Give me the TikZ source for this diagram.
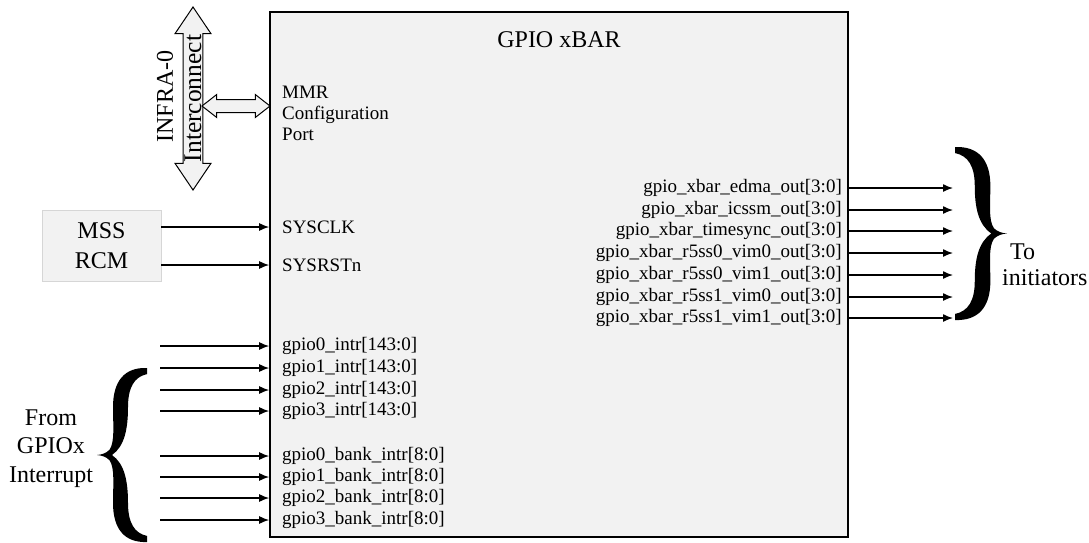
\documentclass[tikz,border=0pt]{standalone}
\usepackage{fontspec}
\setmainfont{Liberation Serif}
\usetikzlibrary{arrows.meta,positioning,shapes.arrows,calc}
\definecolor{xbarFill}{RGB}{242,242,242}
\definecolor{rcmLine}{RGB}{214,214,214}
\tikzset{
  sig/.style={line width=1.4pt, -{Latex[length=10pt,width=8pt]}},
  port/.style={font=\fontsize{19}{21}\selectfont, inner sep=0pt},
  biglabel/.style={font=\fontsize{24}{28}\selectfont, inner sep=0pt, align=center},
  blockarrow/.style={double arrow, draw=black, line width=1pt, fill=xbarFill, inner sep=0pt},
  curly/.pic={
    \fill (0,1) .. controls (0.45,1.01) and (0.68,0.85) .. (0.68,0.55)
      .. controls (0.68,0.35) and (0.64,0.15) .. (0.75,0.06)
      .. controls (0.82,0.02) and (0.9,0.005) .. (1,0)
      .. controls (0.9,-0.005) and (0.82,-0.02) .. (0.75,-0.06)
      .. controls (0.64,-0.15) and (0.68,-0.35) .. (0.68,-0.55)
      .. controls (0.68,-0.85) and (0.45,-1.01) .. (0,-1)
      -- (0,-0.93)
      .. controls (0.25,-0.9) and (0.38,-0.78) .. (0.38,-0.55)
      .. controls (0.38,-0.3) and (0.45,-0.1) .. (0.7,0)
      .. controls (0.45,0.1) and (0.38,0.3) .. (0.38,0.55)
      .. controls (0.38,0.78) and (0.25,0.9) .. (0,0.93) -- cycle;
  }
}

\begin{document}
\begin{tikzpicture}[x=1pt, y=-1pt]
\useasboundingbox (0,0) rectangle (1089,542);
\node[draw, line width=1.6pt, fill=xbarFill, minimum width=578pt, minimum height=525pt, inner sep=0pt] (xbar) at (559,274.5) {};
\node[biglabel] (title) at (559,40) {GPIO xBAR};

\node[blockarrow, rotate=90, minimum height=183pt, minimum width=34pt, double arrow head extend=8pt, double arrow tip angle=68, font=\fontsize{25.5}{28}\selectfont, inner ysep=1pt] (infra) at (193,98.5) {Interconnect};
\node[biglabel, rotate=90] (infralbl) at (165,96.5) {INFRA-0};
\node[blockarrow, minimum height=68pt, minimum width=22pt, double arrow head extend=5pt, double arrow tip angle=76, inner ysep=6pt] (mmrlink) at (236,106) {};
\node[port, align=left, anchor=west] (mmr) at (282,113) {MMR\\Configuration\\Port};

\node[draw=rcmLine, fill=xbarFill, minimum width=119pt, minimum height=71pt, biglabel, font=\fontsize{24}{30}\selectfont] (rcm) at (101.5,245.5) {MSS\\RCM};
\foreach \y/\name in {227/SYSCLK, 265/SYSRSTn}
{
    \node[port, anchor=west] (\name) at (282,\y) {\name};
    \draw[sig] (rcm.east |- \name) -- (xbar.west |- \name);
}

\foreach \n/\y in {0/346,1/368,2/390,3/411}
{
    \coordinate (gi\n) at (160,\y);
    \node[port, anchor=west] (gl\n) at (282,\y) {gpio\n\_intr[143:0]};
    \draw[sig] (gi\n) -- (gi\n -| xbar.west);
}
\foreach \n/\y in {0/456,1/477,2/498,3/520}
{
    \coordinate (bi\n) at (160,\y);
    \node[port, anchor=west] (bl\n) at (282,\y) {gpio\n\_bank\_intr[8:0]};
    \draw[sig] (bi\n) -- (bi\n -| xbar.west);
}

\foreach \y/\tgt [count=\i] in {188/edma, 210/icssm, 231/timesync, 253/r5ss0\_vim0, 275/r5ss0\_vim1, 297/r5ss1\_vim0, 318/r5ss1\_vim1}
{
    \coordinate (go\i) at (953,\y);
    \node[port, anchor=east] (gol\i) at (842,\y) {gpio\_xbar\_\tgt\_out[3:0]};
    \draw[sig] (gol\i -| xbar.east) -- (go\i);
}

\pic[xscale=52, yscale=86.5] (toBrace) at (955,233.5) {curly};
\pic[xscale=-50, yscale=87] (fromBrace) at (147,455) {curly};
\node[biglabel, align=left, anchor=west, font=\fontsize{24}{26}\selectfont] (toinit) at (1002,264.5) {\hspace{8pt}To\\initiators};
\node[biglabel, font=\fontsize{24}{28.5}\selectfont] (fromgpio) at (51,448.5) {From\\GPIOx\\Interrupt};
\end{tikzpicture}
\end{document}
